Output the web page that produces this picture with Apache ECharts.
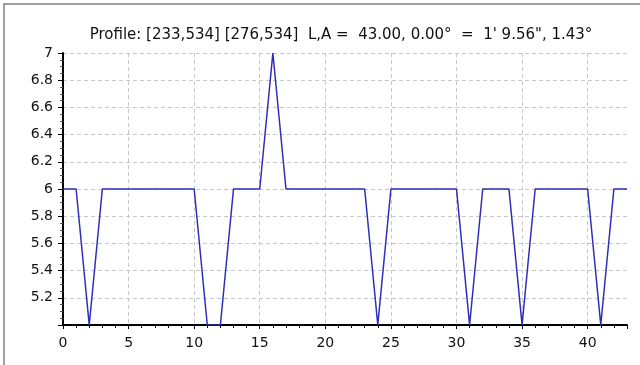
<!DOCTYPE html>
<html>
<head>
<meta charset="utf-8">
<script src="https://cdn.jsdelivr.net/npm/echarts@6/dist/echarts.min.js"></script>
<style>
  html, body { margin: 0; padding: 0; background: #fff; }
  #frame { position: absolute; left: 3px; top: 3px; width: 637px; height: 362px; border-left: 2px solid #a0a0a0; border-top: 2px solid #a0a0a0; box-sizing: border-box; }
  #chart { position: absolute; left: 0; top: 0; width: 640px; height: 365px; }
</style>
</head>
<body>
<div id="frame"></div>
<div id="chart"></div>
<script>
const titleText = "Profile: [233,534] [276,534]  L,A =  43.00, 0.00°  =  1' 9.56\", 1.43°";
const positions = [0,1,2,3,4,5,6,7,8,9,10,11,12,13,14,15,16,17,18,19,20,21,22,23,24,25,26,27,28,29,30,31,32,33,34,35,36,37,38,39,40,41,42,43];
const profileValues = [6,6,5,6,6,6,6,6,6,6,6,5,5,6,6,6,7,6,6,6,6,6,6,6,5,6,6,6,6,6,6,5,6,6,6,5,6,6,6,6,6,5,6,6];
const xTickLabels = [0,5,10,15,20,25,30,35,40];
const yTickLabels = [5.2,5.4,5.6,5.8,6,6.2,6.4,6.6,6.8,7];

const chart = echarts.init(document.getElementById('chart'), null, {renderer: 'canvas'});
const pts = positions.map((x, i) => [x, profileValues[i]]);
const font = '"DejaVu Sans", sans-serif';
chart.setOption({
  animation: false,
  backgroundColor: 'transparent',
  title: {
    text: titleText,
    left: 336, top: 23, textAlign: 'center',
    textStyle: { fontSize: 15, fontWeight: 'normal', color: '#111', fontFamily: font }
  },
  grid: { left: 63, right: 13, top: 53, bottom: 40, containLabel: false },
  xAxis: {
    type: 'value', min: 0, max: 43, interval: 5,
    axisLine: { show: true, onZero: false, lineStyle: { color: '#000', width: 2 } },
    axisTick: { show: true, length: 4, lineStyle: { color: '#000', width: 1 } },
    minorTick: { show: true, splitNumber: 5, length: 3, lineStyle: { color: '#000', width: 1 } },
    axisLabel: {
      margin: 11, color: '#111', fontSize: 14, fontFamily: font,
      showMaxLabel: false,
      formatter: v => (xTickLabels.indexOf(v) >= 0 ? String(v) : '')
    },
    splitLine: { show: true, showMaxLine: false, lineStyle: { color: '#c8c8c8', type: [4, 3], width: 1 } }
  },
  yAxis: {
    type: 'value', min: 5, max: 7, interval: 0.2,
    axisLine: { show: true, onZero: false, lineStyle: { color: '#000', width: 2 } },
    axisTick: { show: true, length: 5, lineStyle: { color: '#000', width: 1 } },
    minorTick: { show: true, splitNumber: 4, length: 3, lineStyle: { color: '#555', width: 1 } },
    axisLabel: {
      margin: 10, color: '#111', fontSize: 14, fontFamily: font,
      formatter: v => {
        const r = Math.round(v * 10) / 10;
        return yTickLabels.indexOf(r) >= 0 ? String(r) : '';
      }
    },
    splitLine: { show: true, showMinLine: false, lineStyle: { color: '#c8c8c8', type: [4, 3], width: 1 } }
  },
  series: [{
    type: 'line',
    data: pts,
    symbol: 'none',
    lineStyle: { color: '#2e2ebc', width: 1.5 },
    z: 3
  }]
});
</script>
</body>
</html>
